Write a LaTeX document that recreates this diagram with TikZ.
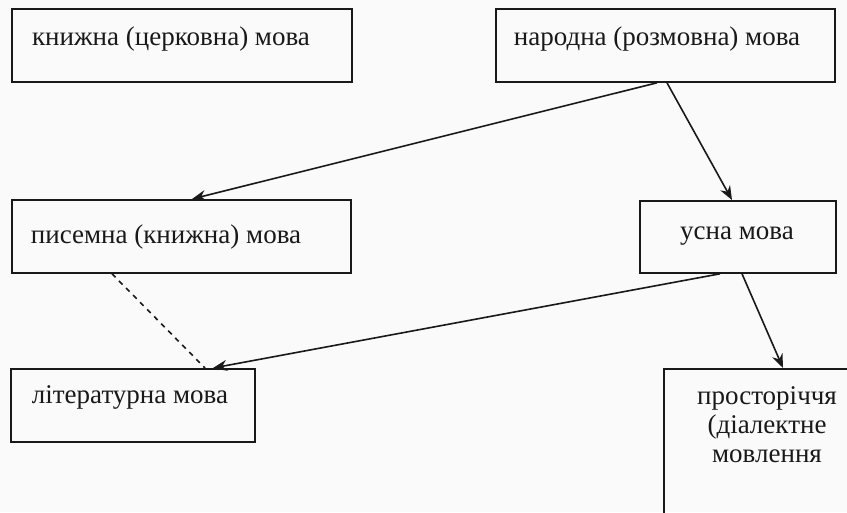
\documentclass[tikz,border=0pt]{standalone}
\usepackage{fontspec}
\setmainfont{Liberation Serif}
\usetikzlibrary{arrows.meta,calc}
\begin{document}
\begin{tikzpicture}[x=1pt,y=-1pt,
  box/.style={draw=black!90,line width=1.8pt,rectangle,inner sep=0pt,anchor=north west},
  lbl/.style={anchor=base,inner sep=0pt,font=\fontsize{27}{32}\selectfont,text=black!90},
  arr/.style={line width=1.6pt,draw=black!90,-{Stealth[length=14pt,width=11pt]}},
  dsh/.style={line width=1.6pt,draw=black!90,dash pattern=on 5pt off 5pt}]
\fill[black!2] (0,0) rectangle (847,512);
\useasboundingbox (0,0) rectangle (847,512);
\clip (0,0) rectangle (847,512);
\node[box,minimum width=340pt,minimum height=73pt] (b1) at (11,8) {};
\node[box,minimum width=339pt,minimum height=73pt] (b2) at (495,8) {};
\node[box,minimum width=339pt,minimum height=73pt] (b3) at (11,199) {};
\node[box,minimum width=196pt,minimum height=72pt] (b4) at (639,200) {};
\node[box,minimum width=244pt,minimum height=73pt] (b5) at (10,368) {};
\node[box,minimum width=210pt,minimum height=160pt] (b6) at (663,368) {};
\node[lbl] (t1) at (171,45) {книжна (церковна) мова};
\node[lbl] (t2) at (657,45) {народна (розмовна) мова};
\node[lbl] (t3) at (166,243) {писемна (книжна) мова};
\node[lbl] (t4) at (737,239) {усна мова};
\node[lbl] (t5) at (130,403) {літературна мова};
\node[lbl] (t6a) at (767,404) {просторіччя};
\node[lbl] (t6b) at (767,433) {(діалектне};
\node[lbl] (t6c) at (767,462) {мовлення};
\draw[arr] ([xshift=162pt]b2.south west) -- ([xshift=181pt]b3.north west);
\draw[arr] ([xshift=172pt]b2.south west) -- ([xshift=93pt]b4.north west);
\draw[arr] ([xshift=81pt]b4.south west) -- ([xshift=203pt]b5.north west);
\draw[arr] ([xshift=103pt]b4.south west) -- ([xshift=120pt]b6.north west);
\draw[dsh] ([xshift=101pt]b3.south west) -- ([xshift=195pt]b5.north west);
\end{tikzpicture}
\end{document}
